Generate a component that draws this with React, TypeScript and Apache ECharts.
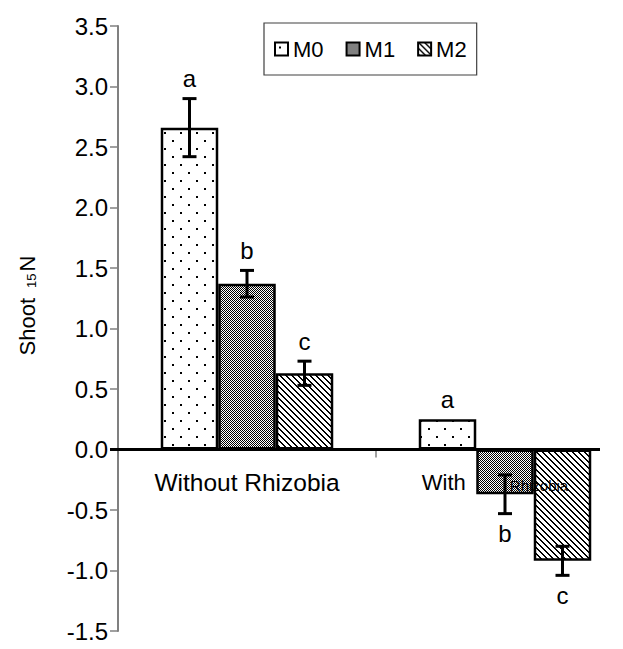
import React, { useEffect, useRef } from "react";
import * as echarts from "echarts";

const categories = ["Without Rhizobia", "With Rhizobia"];
const seriesNames = ["M0", "M1", "M2"];
const m0Values = [2.66, 0.25];
const m1Values = [1.37, -0.37];
const m2Values = [0.63, -0.92];
const m0Errors = [0.24, 0];
const m1Errors = [0.11, 0.16];
const m2Errors = [0.1, 0.12];
const m0Letters = ["a", "a"];
const m1Letters = ["b", "b"];
const m2Letters = ["c", "c"];
const yMin = -1.5;
const yMax = 3.5;
const yInterval = 0.5;

const FONT = '"Liberation Sans", Arial, sans-serif';
const BAR_W = 57.5;
const LETTER_GAP = 20;
const CAT_LABEL_OFFSET = 33;

function tile(w: number, h: number, draw: (ctx: CanvasRenderingContext2D) => void) {
  const c = document.createElement("canvas");
  c.width = w;
  c.height = h;
  const ctx = c.getContext("2d")!;
  draw(ctx);
  return { image: c, repeat: "repeat", imageWidth: w, imageHeight: h } as any;
}

function makePatterns() {
  const dots = tile(16, 16, (ctx) => {
    ctx.fillStyle = "#000";
    ctx.fillRect(4, 4, 2, 2);
    ctx.fillRect(12, 12, 2, 2);
  });
  const checker = tile(2, 2, (ctx) => {
    ctx.fillStyle = "#000";
    ctx.fillRect(0, 0, 1, 1);
    ctx.fillRect(1, 1, 1, 1);
  });
  const hatch = tile(6, 6, (ctx) => {
    ctx.fillStyle = "#000";
    for (let i = 0; i < 6; i++) {
      ctx.fillRect(i, i, 1, 1);
      ctx.fillRect((i + 1) % 6, i, 1, 1);
    }
  });
  return [dots, checker, hatch];
}

function catLabelText(v: string) {
  if (v === "With Rhizobia") return "{w|With}{s|Rhizobia}";
  return "{n|" + v + "}";
}

export default function App() {
  const ref = useRef<HTMLDivElement>(null);
  useEffect(() => {
    document.body.style.margin = "0";
    const chart = echarts.init(ref.current!, null, { renderer: "svg" });
    const patterns = makePatterns();
    const valueSets = [m0Values, m1Values, m2Values];
    const errSets = [m0Errors, m1Errors, m2Errors];
    const letterSets = [m0Letters, m1Letters, m2Letters];

    const bars = seriesNames.map((name, idx) => ({
      type: "bar",
      name,
      data: valueSets[idx],
      barWidth: BAR_W,
      barGap: "0%",
      z: 2,
      itemStyle: { color: patterns[idx], borderColor: "#000", borderWidth: 2.5 },
    }));

    const errs = seriesNames.map((name, idx) => ({
      type: "custom",
      name: "err" + name,
      z: 5,
      silent: true,
      data: valueSets[idx].map((v, i) => [i, v, errSets[idx][i]]),
      renderItem: (params: any, api: any) => {
        const cat = api.value(0);
        const v = api.value(1);
        const e = api.value(2);
        const base = api.coord([cat, v]);
        const x = base[0] + (idx - 1) * BAR_W;
        const yHi = api.coord([cat, v + e])[1];
        const yLo = api.coord([cat, v - e])[1];
        const children: any[] = [];
        const ls = { stroke: "#000", lineWidth: 3 };
        if (e > 0) {
          children.push({ type: "line", shape: { x1: x, y1: yHi, x2: x, y2: yLo }, style: ls });
          children.push({ type: "line", shape: { x1: x - 7, y1: yHi, x2: x + 7, y2: yHi }, style: ls });
          children.push({ type: "line", shape: { x1: x - 7, y1: yLo, x2: x + 7, y2: yLo }, style: ls });
        }
        const ty = v >= 0 ? yHi - LETTER_GAP : yLo + LETTER_GAP;
        children.push({
          type: "text",
          x,
          y: ty,
          style: {
            text: letterSets[idx][params.dataIndex],
            fill: "#000",
            font: "24px " + FONT,
            align: "center",
            verticalAlign: "middle",
          },
        });
        return { type: "group", children };
      },
    }));

    const catLabels = {
      type: "custom",
      name: "catLabels",
      z: 1,
      silent: true,
      data: categories.map((c, i) => [i, 0]),
      renderItem: (params: any, api: any) => {
        const p = api.coord([api.value(0), 0]);
        return {
          type: "text",
          x: p[0],
          y: p[1] + CAT_LABEL_OFFSET,
          style: {
            text: catLabelText(categories[params.dataIndex]),
            fill: "#000",
            align: "center",
            verticalAlign: "middle",
            rich: {
              n: { fontSize: 24.5, fill: "#000", fontFamily: FONT },
              w: { fontSize: 22, fill: "#000", fontFamily: FONT },
              s: { fontSize: 15, fill: "#000", fontFamily: FONT, padding: [6, 20, 0, 44] },
            },
          },
        };
      },
    };

    chart.setOption({
      animation: false,
      textStyle: { fontFamily: FONT },
      grid: { left: 118, right: -11, top: 26, bottom: 18, outerBoundsMode: "none", containLabel: false },
      legend: {
        data: seriesNames,
        left: 264,
        top: 23,
        icon: "rect",
        itemWidth: 13,
        itemHeight: 13,
        itemGap: 22,
        padding: [15, 10],
        borderColor: "#404040",
        borderWidth: 1.2,
        selectedMode: false,
        textStyle: { fontSize: 22, color: "#000", fontFamily: FONT },
      },
      xAxis: {
        type: "category",
        data: categories,
        axisLine: { show: true, onZero: true, lineStyle: { color: "rgba(0,0,0,0)", width: 1 } },
        axisTick: { show: true, length: 8, lineStyle: { color: "#808080", width: 1.5 } },
        axisLabel: { show: false },
        splitLine: { show: false },
      },
      yAxis: {
        type: "value",
        min: yMin,
        max: yMax,
        interval: yInterval,
        name: "{m|Shoot}{sub|15}{m|N}",
        nameLocation: "middle",
        nameGap: 80,
        nameTextStyle: {
          color: "#000",
          fontSize: 22,
          fontFamily: FONT,
          padding: [0, 0, 0, 46],
          rich: {
            m: { fontSize: 22, color: "#000", fontFamily: FONT },
            sub: { fontSize: 13, color: "#000", fontFamily: FONT, padding: [8, 2, 0, 10] },
          },
        },
        axisLine: { show: true, lineStyle: { color: "#808080", width: 2 } },
        axisTick: { show: true, length: 8, lineStyle: { color: "#808080", width: 1.5 } },
        axisLabel: {
          fontSize: 24,
          color: "#000",
          fontFamily: FONT,
          margin: 10,
          formatter: (v: number) => v.toFixed(1),
        },
        splitLine: { show: false },
      },
      series: [catLabels, ...bars, ...errs],
    });

    const y0 = chart.convertToPixel({ yAxisIndex: 0 }, 0) as number;
    chart.setOption({
      graphic: [
        {
          type: "line",
          z: 10,
          shape: { x1: 110, y1: y0, x2: 600, y2: y0 },
          style: { stroke: "#000", lineWidth: 3 },
        },
      ],
    });

    return () => chart.dispose();
  }, []);
  return <div ref={ref} style={{ width: 623, height: 649 }} />;
}
